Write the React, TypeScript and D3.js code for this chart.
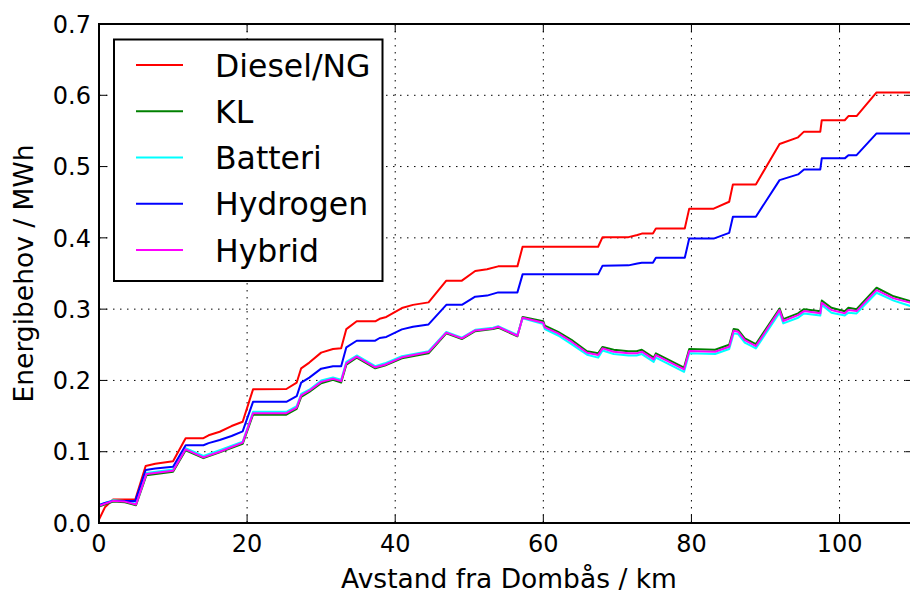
import * as React from "react";
import * as d3 from "d3";

// distance along the line (km) for the two upper curves
const kmTop = [0, 0.8, 1.9, 4.9, 6.3, 7.6, 10.0, 11.7, 14.1, 14.8, 16.3, 17.9, 19.4, 20.8, 25.3, 26.7, 27.3, 28.4, 30.0, 31.6, 32.7, 33.4, 34.8, 37.3, 37.9, 38.8, 40.9, 42.4, 44.5, 46.9, 49.0, 50.8, 52.4, 53.9, 56.5, 57.2, 67.4, 68.0, 71.5, 72.7, 73.3, 74.8, 75.2, 79.1, 79.7, 83.0, 85.1, 85.6, 88.7, 91.9, 94.4, 95.2, 97.4, 97.6, 100.7, 101.2, 102.3, 105.0, 110];
const diesel = [0.005, 0.022, 0.033, 0.033, 0.080, 0.083, 0.0865, 0.119, 0.119, 0.123, 0.128, 0.136, 0.142, 0.1875, 0.188, 0.197, 0.217, 0.225, 0.239, 0.244, 0.245, 0.272, 0.283, 0.283, 0.2865, 0.289, 0.3015, 0.306, 0.3095, 0.340, 0.340, 0.3535, 0.356, 0.360, 0.360, 0.3875, 0.3875, 0.401, 0.401, 0.404, 0.406, 0.406, 0.413, 0.413, 0.441, 0.441, 0.4506, 0.475, 0.475, 0.5316, 0.541, 0.549, 0.549, 0.565, 0.565, 0.5708, 0.5708, 0.604, 0.604];
const hydrogen = [0.025, 0.028, 0.031, 0.031, 0.0743, 0.0765, 0.079, 0.109, 0.109, 0.112, 0.1164, 0.122, 0.1286, 0.170, 0.170, 0.178, 0.197, 0.204, 0.2165, 0.220, 0.220, 0.2464, 0.2557, 0.2557, 0.2595, 0.261, 0.2716, 0.2753, 0.2786, 0.306, 0.306, 0.3175, 0.319, 0.3235, 0.3235, 0.3488, 0.3488, 0.361, 0.3614, 0.364, 0.365, 0.365, 0.372, 0.372, 0.399, 0.399, 0.407, 0.4296, 0.4296, 0.481, 0.489, 0.496, 0.496, 0.5115, 0.5115, 0.516, 0.516, 0.5465, 0.5465];

// distance for the three lower curves
const kmLow = [0, 1.9, 3.5, 5.0, 6.4, 10.0, 11.7, 14.1, 16.3, 19.4, 20.8, 25.3, 26.7, 27.3, 28.4, 30.0, 31.6, 32.7, 33.4, 34.8, 37.3, 38.6, 40.9, 44.5, 46.9, 49.0, 50.8, 53.2, 53.9, 56.5, 57.2, 60.0, 60.2, 62.0, 63.8, 65.9, 67.4, 68.0, 69.5, 71.5, 72.6, 73.3, 74.9, 75.2, 79.0, 79.7, 83.2, 85.1, 85.7, 86.3, 87.2, 88.7, 91.9, 92.4, 94.4, 95.2, 97.4, 97.6, 98.9, 100.7, 101.2, 102.3, 105.0, 107.3, 110];
const kl = [0.023, 0.030, 0.029, 0.025, 0.067, 0.072, 0.102, 0.091, 0.099, 0.111, 0.152, 0.152, 0.160, 0.177, 0.184, 0.196, 0.201, 0.197, 0.222, 0.232, 0.217, 0.221, 0.231, 0.238, 0.266, 0.258, 0.269, 0.272, 0.274, 0.262, 0.289, 0.283, 0.277, 0.268, 0.257, 0.241, 0.238, 0.247, 0.243, 0.241, 0.241, 0.243, 0.232, 0.238, 0.218, 0.244, 0.243, 0.250, 0.272, 0.271, 0.259, 0.251, 0.301, 0.286, 0.294, 0.300, 0.297, 0.312, 0.302, 0.297, 0.302, 0.300, 0.330, 0.318, 0.310];
const batteri = [0.025, 0.032, 0.031, 0.027, 0.070, 0.075, 0.105, 0.094, 0.102, 0.114, 0.156, 0.156, 0.164, 0.181, 0.187, 0.200, 0.204, 0.201, 0.226, 0.235, 0.220, 0.224, 0.234, 0.241, 0.268, 0.260, 0.271, 0.274, 0.276, 0.264, 0.287, 0.279, 0.272, 0.263, 0.251, 0.236, 0.232, 0.242, 0.237, 0.235, 0.235, 0.237, 0.226, 0.232, 0.212, 0.238, 0.237, 0.244, 0.266, 0.265, 0.253, 0.245, 0.295, 0.280, 0.288, 0.294, 0.291, 0.306, 0.295, 0.291, 0.295, 0.294, 0.323, 0.312, 0.303];
const hybrid = [0.024, 0.031, 0.030, 0.026, 0.0687, 0.0734, 0.1033, 0.092, 0.100, 0.1127, 0.154, 0.154, 0.162, 0.179, 0.1856, 0.198, 0.2024, 0.199, 0.224, 0.2333, 0.2184, 0.222, 0.2324, 0.2398, 0.267, 0.259, 0.2702, 0.273, 0.2753, 0.2627, 0.288, 0.281, 0.2745, 0.266, 0.2543, 0.2389, 0.2356, 0.245, 0.2403, 0.238, 0.238, 0.2403, 0.2296, 0.2356, 0.2156, 0.2412, 0.2403, 0.2473, 0.2697, 0.2683, 0.2567, 0.2482, 0.2987, 0.2833, 0.2917, 0.2973, 0.2941, 0.309, 0.2987, 0.2941, 0.2987, 0.2973, 0.3268, 0.3151, 0.308];

const seriesNames = ["Diesel/NG", "KL", "Batteri", "Hydrogen", "Hybrid"];
const seriesColors = ["#ff0000", "#008000", "#00ffff", "#0000ff", "#ff00ff"];
const xTicks = [0, 20, 40, 60, 80, 100];
const yTicks = [0.0, 0.1, 0.2, 0.3, 0.4, 0.5, 0.6, 0.7];

const margin = { left: 99, top: 24, right: 910 - 913.6, bottom: 597 - 523 };
const W = 910;
const H = 597;
const FONT = "DejaVu Sans, sans-serif";

export default function App() {
    const x = d3.scaleLinear().domain([0, 110]).range([margin.left, W - margin.right]);
    const y = d3.scaleLinear().domain([0, 0.7]).range([H - margin.bottom, margin.top]);

    const series = [
        { km: kmTop, v: diesel },
        { km: kmLow, v: kl },
        { km: kmLow, v: batteri },
        { km: kmTop, v: hydrogen },
        { km: kmLow, v: hybrid },
    ];

    const line = d3.line<[number, number]>()
        .x(d => x(d[0]))
        .y(d => y(d[1]));

    const x0 = x(0), x1 = x(110), y0 = y(0), y1 = y(0.7);

    return (
        <svg width={W} height={H} style={{ position: "absolute", left: 0, top: 0, background: "#fff" }} fontFamily={FONT}>
            <defs>
                <clipPath id="plot">
                    <rect x={x0} y={y1} width={x1 - x0} height={y0 - y1} />
                </clipPath>
            </defs>
            <rect x={0} y={0} width={W} height={H} fill="#fff" />

            {/* grid */}
            {xTicks.slice(1).map(t => (
                <line key={"gx" + t} x1={x(t)} x2={x(t)} y1={y1} y2={y0} stroke="#000" strokeWidth={1} strokeDasharray="1.5,5.5" />
            ))}
            {yTicks.slice(1, -1).map(t => (
                <line key={"gy" + t} x1={x0} x2={x1} y1={y(t)} y2={y(t)} stroke="#000" strokeWidth={1} strokeDasharray="1.5,5.5" />
            ))}

            {/* lines */}
            <g clipPath="url(#plot)">
                {series.map((s, i) => (
                    <path key={i}
                        d={line(s.km.map((k, j) => [k, s.v[j]] as [number, number])) || ""}
                        fill="none" stroke={seriesColors[i]} strokeWidth={2} strokeLinejoin="round" />
                ))}
            </g>

            {/* ticks, pointing inward */}
            {xTicks.map(t => (
                <g key={"tx" + t}>
                    <line x1={x(t)} x2={x(t)} y1={y0} y2={y0 - 8} stroke="#000" strokeWidth={1} />
                    <line x1={x(t)} x2={x(t)} y1={y1} y2={y1 + 8} stroke="#000" strokeWidth={1} />
                    <text x={x(t)} y={552} textAnchor="middle" fontSize={24}>{t}</text>
                </g>
            ))}
            {yTicks.map(t => (
                <g key={"ty" + t}>
                    <line x1={x0} x2={x0 + 8} y1={y(t)} y2={y(t)} stroke="#000" strokeWidth={1} />
                    <line x1={x1} x2={x1 - 8} y1={y(t)} y2={y(t)} stroke="#000" strokeWidth={1} />
                    <text x={91} y={y(t) + 8.7} textAnchor="end" fontSize={24}>{t.toFixed(1)}</text>
                </g>
            ))}

            {/* frame */}
            <rect x={x0} y={y1} width={x1 - x0} height={y0 - y1} fill="none" stroke="#000" strokeWidth={2} />

            {/* axis labels */}
            <text x={509} y={588} textAnchor="middle" fontSize={26.5}>Avstand fra Dombås / km</text>
            <text transform={`translate(33,${(y0 + y1) / 2}) rotate(-90)`} textAnchor="middle" fontSize={26.5}>Energibehov / MWh</text>

            {/* legend */}
            <g>
                <rect x={114} y={39.5} width={268.5} height={241.5} fill="#fff" stroke="#000" strokeWidth={2} />
                {seriesNames.map((n, i) => {
                    const ly = 65 + i * 46.25;
                    return (
                        <g key={n}>
                            <line x1={136} x2={183} y1={ly} y2={ly} stroke={seriesColors[i]} strokeWidth={2} />
                            <text x={215} y={ly + 11.5} fontSize={31.5}>{n}</text>
                        </g>
                    );
                })}
            </g>
        </svg>
    );
}
